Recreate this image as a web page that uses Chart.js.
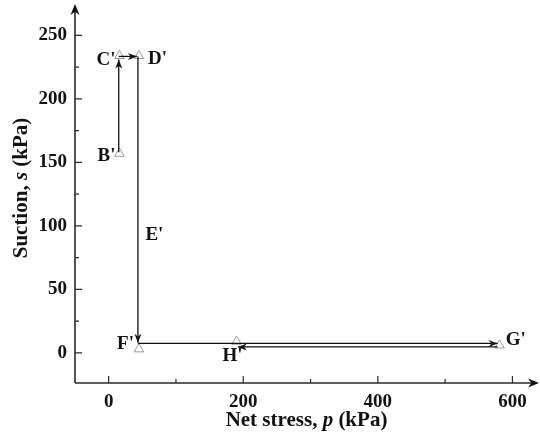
<!DOCTYPE html>
<html>
<head>
<meta charset="utf-8">
<script src="https://cdn.jsdelivr.net/npm/chart.js@4"></script>
<style>
  html, body { margin: 0; padding: 0; background: #fff; }
  #wrap { width: 540px; height: 437px; }
</style>
</head>
<body>
<div id="wrap"><canvas id="chart"></canvas></div>
<script>
// axis ticks
const xTicks = [0, 200, 400, 600];
const xMinorTicks = [100, 300, 500];
const yTicks = [0, 50, 100, 150, 200, 250];
const yMinorTicks = [25, 75, 125, 175, 225];

// measured states (open triangles)
const pointNames = ["B'", "C'", "D'", "F'", "G'", "H'"];
const pointP = [16, 16, 45, 45, 581, 190];
const pointS = [157, 234, 234, 3, 6, 9];

// stress path legs, each ends in an arrow
const pathBtoC_p = [15, 15];
const pathBtoC_s = [158, 231];
const pathCtoD_p = [15, 42];
const pathCtoD_s = [233.5, 233.5];
const pathDtoF_p = [43.5, 43.5];
const pathDtoF_s = [233.5, 8];
const pathFtoG_p = [43.5, 578];
const pathFtoG_s = [7.5, 7.5];
const pathGtoH_p = [578, 192];
const pathGtoH_s = [4.7, 4.7];

// label for the wetting leg
const labelE_name = "E'";
const labelE_p = 68;
const labelE_s = 93;

const FONT = '"Liberation Serif", "Times New Roman", serif';
const FSIZE = 19;
const TITLE_SIZE = 21;

function toXY(ps, ss) {
  var out = [];
  for (var i = 0; i < ps.length; i++) out.push({x: ps[i], y: ss[i]});
  return out;
}

function pathSet(ps, ss) {
  return {
    type: 'line',
    data: toXY(ps, ss),
    borderColor: '#111',
    borderWidth: 1.3,
    pointRadius: 0,
    showLine: true,
    fill: false,
    clip: false,
    arrow: true
  };
}

function drawHead(ctx, x1, y1, x2, y2, len, half) {
  var a = Math.atan2(y2 - y1, x2 - x1);
  ctx.save();
  ctx.translate(x2, y2);
  ctx.rotate(a);
  ctx.beginPath();
  ctx.moveTo(0, 0);
  ctx.lineTo(-len, -half);
  ctx.lineTo(-len * 0.7, 0);
  ctx.lineTo(-len, half);
  ctx.closePath();
  ctx.fill();
  ctx.restore();
}

// text with some italic parts, centered on 0,0
function drawMixed(ctx, parts, size) {
  var total = 0;
  parts.forEach(p => {
    ctx.font = (p[1] ? 'italic ' : '') + 'bold ' + size + 'px ' + FONT;
    total += ctx.measureText(p[0]).width;
  });
  var x = -total / 2;
  ctx.textAlign = 'left';
  ctx.textBaseline = 'middle';
  parts.forEach(p => {
    ctx.font = (p[1] ? 'italic ' : '') + 'bold ' + size + 'px ' + FONT;
    ctx.fillText(p[0], x, 0);
    x += ctx.measureText(p[0]).width;
  });
}

// where each state label sits next to its triangle
const labelPlace = {
  "B'": ['right', -4, 3],
  "C'": ['right', -4, 4],
  "D'": ['left', 9, 3],
  "F'": ['right', -5, -5],
  "G'": ['left', 6, -5],
  "H'": ['center', -4, 15]
};

const decorPlugin = {
  id: 'decor',
  afterDatasetsDraw(chart) {
    const ctx = chart.ctx;
    const xs = chart.scales.x;
    const ys = chart.scales.y;
    const area = chart.chartArea;
    const x0 = area.left, y0 = area.bottom;

    ctx.save();
    // axis lines with arrows
    ctx.strokeStyle = '#2b2b2b';
    ctx.fillStyle = '#111';
    ctx.lineWidth = 1.6;
    ctx.beginPath();
    ctx.moveTo(x0, y0);
    ctx.lineTo(x0, area.top + 3);
    ctx.moveTo(x0, y0);
    ctx.lineTo(area.right - 3, y0);
    ctx.stroke();
    drawHead(ctx, x0, y0, x0, area.top - 1, 11, 4.5);
    drawHead(ctx, x0, y0, area.right + 1, y0, 11, 4.5);

    // inward ticks
    ctx.lineWidth = 1.2;
    ctx.beginPath();
    xTicks.forEach(v => { var px = xs.getPixelForValue(v); ctx.moveTo(px, y0); ctx.lineTo(px, y0 - 7); });
    xMinorTicks.forEach(v => { var px = xs.getPixelForValue(v); ctx.moveTo(px, y0); ctx.lineTo(px, y0 - 4); });
    yTicks.forEach(v => { var py = ys.getPixelForValue(v); ctx.moveTo(x0, py); ctx.lineTo(x0 + 7, py); });
    yMinorTicks.forEach(v => { var py = ys.getPixelForValue(v); ctx.moveTo(x0, py); ctx.lineTo(x0 + 4, py); });
    ctx.stroke();

    // arrowheads at the end of every path leg
    ctx.fillStyle = '#111';
    chart.data.datasets.forEach(ds => {
      if (!ds.arrow) return;
      var n = ds.data.length;
      var a = ds.data[n - 2], b = ds.data[n - 1];
      drawHead(ctx, xs.getPixelForValue(a.x), ys.getPixelForValue(a.y),
               xs.getPixelForValue(b.x), ys.getPixelForValue(b.y), 9, 3.5);
    });

    // state labels
    ctx.fillStyle = '#111';
    ctx.font = 'bold ' + FSIZE + 'px ' + FONT;
    ctx.textBaseline = 'middle';
    for (var i = 0; i < pointNames.length; i++) {
      var pl = labelPlace[pointNames[i]];
      ctx.textAlign = pl[0];
      ctx.fillText(pointNames[i], xs.getPixelForValue(pointP[i]) + pl[1], ys.getPixelForValue(pointS[i]) + pl[2]);
    }
    ctx.textAlign = 'center';
    ctx.fillText(labelE_name, xs.getPixelForValue(labelE_p), ys.getPixelForValue(labelE_s));

    // axis titles
    ctx.save();
    ctx.translate((area.left + area.right) / 2, 421);
    drawMixed(ctx, [['Net stress, ', false], ['p', true], [' (kPa)', false]], TITLE_SIZE);
    ctx.restore();
    ctx.save();
    ctx.translate(22, (area.top + area.bottom) / 2 - 6);
    ctx.rotate(-Math.PI / 2);
    drawMixed(ctx, [['Suction, ', false], ['s', true], [' (kPa)', false]], TITLE_SIZE);
    ctx.restore();

    ctx.restore();
  }
};

var chart = new Chart(document.getElementById('chart'), {
  type: 'scatter',
  data: {
    datasets: [
      pathSet(pathBtoC_p, pathBtoC_s),
      pathSet(pathCtoD_p, pathCtoD_s),
      pathSet(pathDtoF_p, pathDtoF_s),
      pathSet(pathFtoG_p, pathFtoG_s),
      pathSet(pathGtoH_p, pathGtoH_s),
      {
        data: toXY(pointP, pointS),
        pointStyle: 'triangle',
        pointRadius: 5.5,
        borderWidth: 1,
        borderColor: '#9a9a9a',
        backgroundColor: 'rgba(255,255,255,0)',
        clip: false
      }
    ]
  },
  options: {
    responsive: true,
    maintainAspectRatio: false,
    animation: false,
    events: [],
    layout: { autoPadding: false, padding: { left: 0, right: 2, top: 5, bottom: 0 } },
    plugins: { legend: { display: false }, tooltip: { enabled: false } },
    scales: {
      x: {
        type: 'linear',
        min: -50,
        max: 638,
        border: { display: false },
        grid: { display: false, drawTicks: false },
        afterBuildTicks: s => { s.ticks = xTicks.map(v => ({value: v})); },
        afterFit: s => { s.height = 54; s.paddingLeft = 0; s.paddingRight = 0; },
        ticks: { color: '#111', padding: 8, maxRotation: 0, font: { family: FONT, size: FSIZE, weight: 'bold' } }
      },
      y: {
        type: 'linear',
        min: -23.7,
        max: 274,
        border: { display: false },
        grid: { display: false, drawTicks: false },
        afterBuildTicks: s => { s.ticks = yTicks.map(v => ({value: v})); },
        afterFit: s => { s.width = 75; s.paddingTop = 0; s.paddingBottom = 0; },
        ticks: { color: '#111', padding: 8, font: { family: FONT, size: FSIZE, weight: 'bold' } }
      }
    }
  },
  plugins: [decorPlugin]
});
</script>
</body>
</html>
